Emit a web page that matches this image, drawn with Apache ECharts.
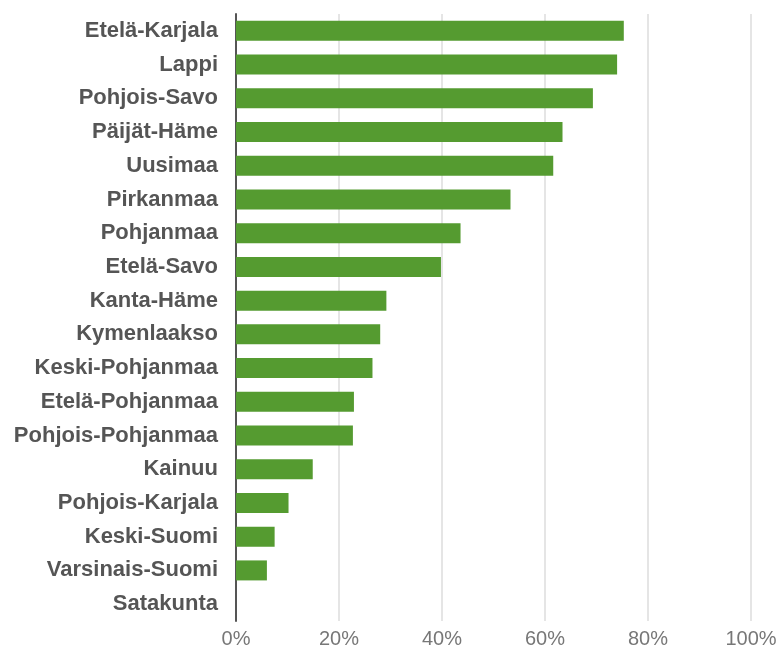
<!DOCTYPE html>
<html>
<head>
<meta charset="utf-8">
<script src="https://cdn.jsdelivr.net/npm/echarts@6/dist/echarts.min.js"></script>
<style>
html, body { margin: 0; padding: 0; background: #fff; }
#chart { width: 781px; height: 655px; }
</style>
</head>
<body>
<div id="chart"></div>
<script>
// regions, top to bottom as in the picture
var regions = ['Etelä-Karjala', 'Lappi', 'Pohjois-Savo', 'Päijät-Häme', 'Uusimaa', 'Pirkanmaa',
	'Pohjanmaa', 'Etelä-Savo', 'Kanta-Häme', 'Kymenlaakso', 'Keski-Pohjanmaa', 'Etelä-Pohjanmaa',
	'Pohjois-Pohjanmaa', 'Kainuu', 'Pohjois-Karjala', 'Keski-Suomi', 'Varsinais-Suomi', 'Satakunta'];
var shares = [75.3, 74.0, 69.3, 63.4, 61.6, 53.3, 43.6, 39.8, 29.2, 28.0, 26.5, 22.9, 22.7, 14.9, 10.2, 7.5, 6.0, 0];
var xTicks = [0, 20, 40, 60, 80, 100];

var myChart = echarts.init(document.getElementById('chart'));

var option = {
	animation: false,
	grid: {
		left: 236,
		right: 30,
		top: 14,
		bottom: 34,
		containLabel: false
	},
	xAxis: {
		type: 'value',
		min: xTicks[0],
		max: xTicks[xTicks.length - 1],
		interval: 20,
		axisLine: { show: false },
		axisTick: { show: false },
		splitLine: { lineStyle: { color: '#dcdcdc', width: 1.5 } },
		axisLabel: {
			formatter: '{value}%',
			color: '#777',
			fontSize: 20,
			fontFamily: 'Liberation Sans',
			margin: 8
		}
	},
	yAxis: {
		type: 'category',
		inverse: true,
		data: regions,
		axisLine: { show: true, lineStyle: { color: '#555', width: 2 } },
		axisTick: { show: false },
		axisLabel: {
			color: '#555',
			fontSize: 22,
			fontWeight: 'bold',
			fontFamily: 'Liberation Sans',
			margin: 18
		}
	},
	series: [{
		type: 'bar',
		data: shares,
		barWidth: 20,
		itemStyle: { color: '#559b30' }
	}]
};

myChart.setOption(option);
</script>
</body>
</html>
